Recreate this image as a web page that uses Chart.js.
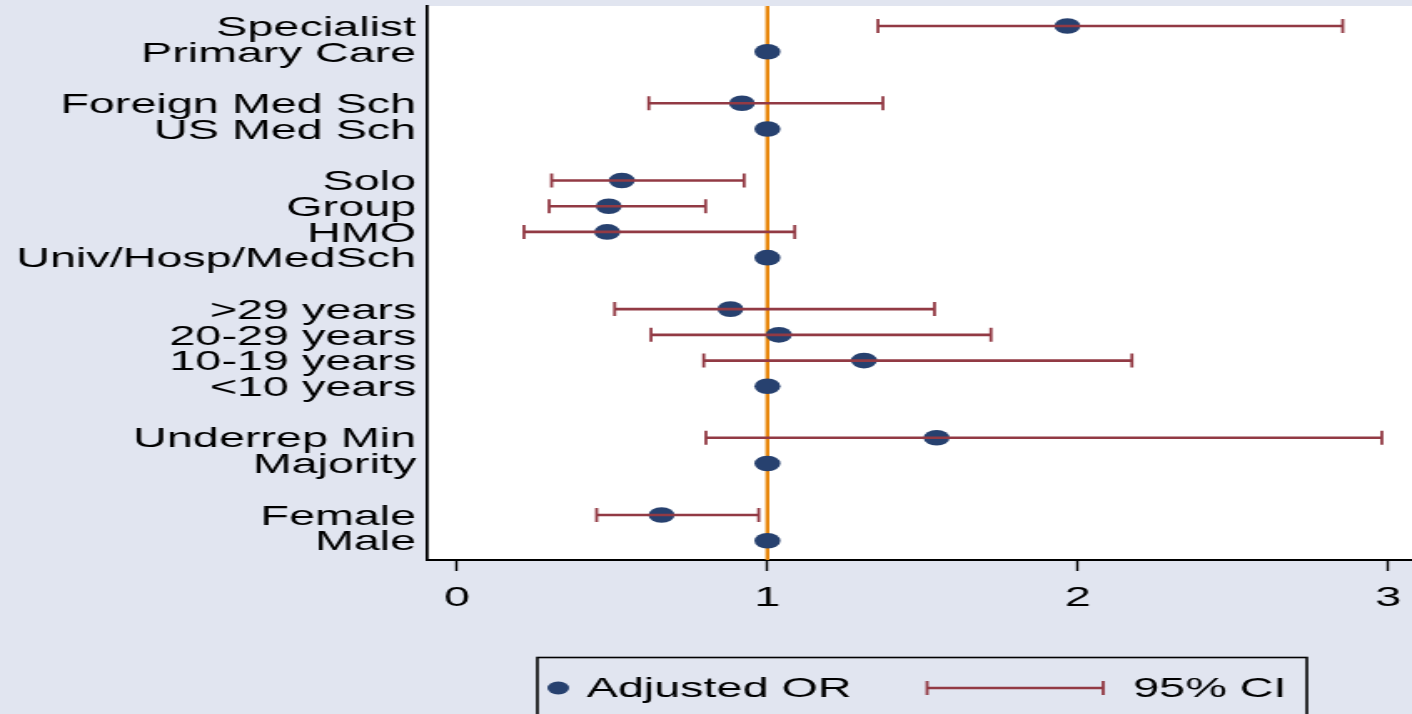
<!DOCTYPE html>
<html>
  <head>
    <script src="https://cdn.jsdelivr.net/npm/chart.js@4.4.0/dist/chart.umd.min.js"></script>
    <style>
      body { margin: 0; overflow: hidden; background: #e1e5f0; }
      canvas { display: block; }
    </style>
  </head>

  <body>
    <canvas id="canvas" width="846" height="714" style="width: 1412px; height: 714px; background: #e1e5f0"></canvas>
    <script>
      // one row per category, blank rows separate the groups
      const rowLabels = [
        'Specialist', 'Primary Care', '',
        'Foreign Med Sch', 'US Med Sch', '',
        'Solo', 'Group', 'HMO', 'Univ/Hosp/MedSch', '',
        '>29 years', '20-29 years', '10-19 years', '<10 years', '',
        'Underrep Min', 'Majority', '',
        'Female', 'Male',
      ];
      const oddsRatio = [
        1.966, 1, null,
        0.918, 1, null,
        0.531, 0.489, 0.484, 1, null,
        0.881, 1.037, 1.311, 1, null,
        1.545, 1, null,
        0.659, 1,
      ];
      const ciLow = [
        1.356, null, null,
        0.618, null, null,
        0.305, 0.297, 0.216, null, null,
        0.508, 0.625, 0.795, null, null,
        0.802, null, null,
        0.450, null,
      ];
      const ciHigh = [
        2.853, null, null,
        1.372, null, null,
        0.925, 0.801, 1.088, null, null,
        1.538, 1.720, 2.174, null, null,
        2.979, null, null,
        0.972, null,
      ];
      const xTicks = [0, 1, 2, 3];
      const refLine = 1;

      const NAVY = '#27416f';
      const MAROON = '#923a44';
      const ORANGE = '#e8870c';

      Chart.defaults.font.family = "'Liberation Sans', Arial, Helvetica, sans-serif";
      Chart.defaults.font.size = 28;
      Chart.defaults.color = '#000';

      const dots = [];
      const ciPts = [];
      rowLabels.forEach((lab, i) => {
        if (oddsRatio[i] !== null) dots.push({ x: oddsRatio[i], y: i });
        if (ciLow[i] !== null) {
          ciPts.push({ x: ciLow[i], y: i }, { x: ciHigh[i], y: i }, { x: null, y: null });
        }
      });

      const yMin = -0.78;
      const yMax = 20.75;

      // keep the plot flush with the canvas edges
      const noPad = (axis) => {
        axis.paddingTop = 0;
        axis.paddingBottom = 0;
        axis.paddingLeft = 0;
        axis.paddingRight = 0;
      };

      const plotBg = {
        id: 'plotBg',
        beforeDraw(chart) {
          const { ctx, chartArea: a } = chart;
          ctx.save();
          ctx.fillStyle = '#fff';
          ctx.fillRect(a.left, a.top, a.right - a.left, a.bottom - a.top);
          ctx.restore();
        },
      };

      // boxed legend under the x axis
      const boxLegend = {
        id: 'boxLegend',
        afterDraw(chart) {
          const ctx = chart.ctx;
          const ds = chart.data.datasets;
          const cy = 688;
          ctx.save();
          ctx.strokeStyle = '#000';
          ctx.lineWidth = 1.6;
          ctx.strokeRect(322, 657.5, 461, 80);

          ctx.fillStyle = NAVY;
          ctx.beginPath();
          ctx.arc(334.5, cy, 6.5, 0, Math.PI * 2);
          ctx.fill();

          ctx.fillStyle = '#000';
          ctx.font = "28px 'Liberation Sans', Arial, sans-serif";
          ctx.textBaseline = 'middle';
          ctx.fillText(ds[1].label, 351.5, cy + 1);

          ctx.strokeStyle = MAROON;
          ctx.lineWidth = 2.5;
          ctx.beginPath();
          ctx.moveTo(555.5, cy);
          ctx.lineTo(661, cy);
          ctx.stroke();
          ctx.lineWidth = 1.8;
          ctx.beginPath();
          ctx.moveTo(555.5, cy - 7);
          ctx.lineTo(555.5, cy + 7);
          ctx.moveTo(661, cy - 7);
          ctx.lineTo(661, cy + 7);
          ctx.stroke();

          ctx.fillText(ds[0].label, 679, cy + 1);
          ctx.restore();
        },
      };

      new Chart(document.getElementById('canvas').getContext('2d'), {
        type: 'scatter',
        data: {
          datasets: [
            {
              label: '95% CI',
              data: ciPts,
              showLine: true,
              spanGaps: false,
              borderColor: MAROON,
              borderWidth: 2.6,
              pointStyle: 'line',
              rotation: 90,
              pointRadius: 7,
              pointBorderWidth: 1.8,
              pointBorderColor: MAROON,
              order: 0,
            },
            {
              label: 'Adjusted OR',
              data: dots,
              pointStyle: 'circle',
              pointRadius: 7.8,
              pointBackgroundColor: NAVY,
              pointBorderColor: NAVY,
              pointBorderWidth: 0,
              order: 1,
            },
            {
              label: 'ref',
              data: [{ x: refLine, y: yMin }, { x: refLine, y: yMax }],
              showLine: true,
              borderColor: ORANGE,
              borderWidth: 2.4,
              pointRadius: 0,
              order: 2,
            },
          ],
        },
        options: {
          responsive: false,
          animation: false,
          devicePixelRatio: 1,
          layout: {
            autoPadding: false,
            padding: { top: 6, left: 0, right: 0, bottom: 0 },
          },
          plugins: {
            legend: { display: false },
            tooltip: { enabled: false },
          },
          scales: {
            x: {
              type: 'linear',
              min: -0.0935,
              max: 3.076,
              afterBuildTicks: (axis) => {
                axis.ticks = xTicks.map((v) => ({ value: v }));
              },
              afterFit: (axis) => {
                axis.height = 154;
                noPad(axis);
              },
              grid: {
                display: true,
                drawOnChartArea: false,
                drawTicks: true,
                tickLength: 11,
                tickWidth: 1.4,
                tickColor: '#000',
              },
              border: { display: true, color: '#000', width: 2 },
              ticks: { padding: 10, color: '#000', maxRotation: 0 },
            },
            y: {
              type: 'linear',
              reverse: true,
              min: yMin,
              max: yMax,
              afterBuildTicks: (axis) => {
                axis.ticks = rowLabels
                  .map((lab, i) => ({ value: i, lab }))
                  .filter((t) => t.lab !== '')
                  .map((t) => ({ value: t.value }));
              },
              afterFit: (axis) => {
                axis.width = 256.4;
                noPad(axis);
              },
              grid: { display: false, drawTicks: false },
              border: { display: true, color: '#000', width: 1.8 },
              ticks: {
                padding: 7,
                labelOffset: 2,
                color: '#000',
                autoSkip: false,
                callback: (v) => rowLabels[v],
              },
            },
          },
        },
        plugins: [plotBg, boxLegend],
      });
    </script>
  </body>
</html>
